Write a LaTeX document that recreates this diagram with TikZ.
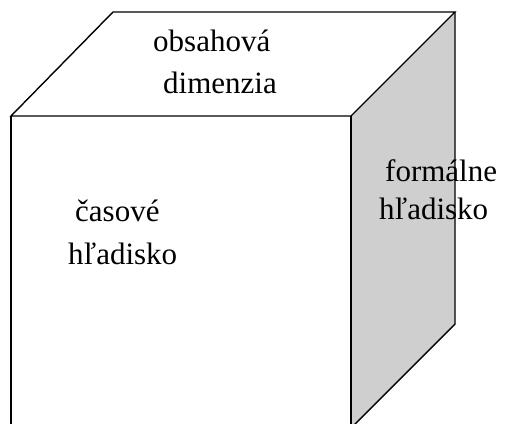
\documentclass[tikz,border=0pt]{standalone}
\usepackage{fontspec}
\setmainfont{Liberation Serif}
\begin{document}
\begin{tikzpicture}[x=1pt,y=1pt,
  edge/.style={draw=black,line width=1.4pt,line join=miter},
  lbl/.style={anchor=base west,inner sep=0pt,font=\fontsize{31}{37}\selectfont}]
\useasboundingbox (0,0) rectangle (505,423);
\clip (0,0) rectangle (505,423);
% cube corners
\coordinate (ftl) at (11,307);
\coordinate (ftr) at (351,307);
\coordinate (fbl) at (11,-5);
\coordinate (fbr) at (351,-5);
\coordinate (btl) at (113,411);
\coordinate (btr) at (455,411);
\coordinate (bbr) at (455,99);
% faces
\fill[white] (ftl) -- (btl) -- (btr) -- (ftr) -- cycle;
\fill[white] (ftl) -- (ftr) -- (fbr) -- (fbl) -- cycle;
\fill[gray!38] (ftr) -- (btr) -- (bbr) -- (fbr) -- cycle;
% labels
\node[lbl] (top1) at (153,371) {obsahová};
\node[lbl] (top2) at (163,329) {dimenzia};
\node[lbl] (front1) at (75,201) {časové};
\node[lbl] (front2) at (68,159) {hľadisko};
\node[lbl] (side1) at (385,241) {formálne};
\node[lbl] (side2) at (379,203) {hľadisko};
% edges
\draw[edge] (ftl) -- (btl) -- (btr) -- (ftr) -- cycle;
\draw[edge] (fbl) -- (ftl);
\draw[edge] (ftr) -- (fbr) -- (fbl);
\draw[edge] (btr) -- (bbr) -- (fbr);
\end{tikzpicture}
\end{document}
